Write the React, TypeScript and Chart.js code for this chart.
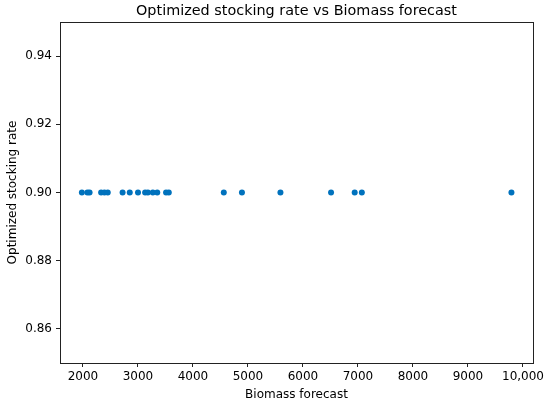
import React, { useEffect, useRef } from "react";
import { Chart, registerables } from "chart.js";

Chart.register(...registerables);

const chartTitle = "Optimized stocking rate vs Biomass forecast";
const biomassForecast = [
  1980, 2080, 2120, 2330, 2390, 2450, 2720, 2850, 3000, 3130, 3180, 3270,
  3350, 3510, 3560, 4560, 4890, 5590, 6510, 6940, 7070, 9790,
];
const stockingRate = [
  0.9, 0.9, 0.9, 0.9, 0.9, 0.9, 0.9, 0.9, 0.9, 0.9, 0.9, 0.9, 0.9, 0.9, 0.9,
  0.9, 0.9, 0.9, 0.9, 0.9, 0.9, 0.9,
];
const xTickValues = [2000, 3000, 4000, 5000, 6000, 7000, 8000, 9000, 10000];
const xTickLabels = ["2000", "3000", "4000", "5000", "6000", "7000", "8000", "9000", "10,000"];
const yTickValues = [0.86, 0.88, 0.9, 0.92, 0.94];
const yTickLabels = ["0.86", "0.88", "0.90", "0.92", "0.94"];

const FONT = "'DejaVu Sans', sans-serif";
const INK = "#222222";

const framePlugin = {
  id: "frameAndTitle",
  afterDraw(chart: any) {
    const { ctx, chartArea } = chart;
    ctx.save();
    ctx.strokeStyle = INK;
    ctx.lineWidth = 1;
    ctx.strokeRect(
      Math.round(chartArea.left) + 0.5,
      Math.round(chartArea.top) + 0.5,
      Math.round(chartArea.right - chartArea.left),
      Math.round(chartArea.bottom - chartArea.top)
    );
    ctx.fillStyle = "#000";
    ctx.font = `14.4px ${FONT}`;
    ctx.textAlign = "center";
    ctx.textBaseline = "alphabetic";
    ctx.fillText(chartTitle, (chartArea.left + chartArea.right) / 2, chartArea.top - 7);
    ctx.restore();
  },
};

export default function App() {
  const ref = useRef<HTMLCanvasElement | null>(null);

  useEffect(() => {
    document.body.style.margin = "0";
    const canvas = ref.current;
    if (!canvas) return;
    const data = biomassForecast.map((x, i) => ({ x, y: stockingRate[i] }));
    const chart = new Chart(canvas, {
      type: "scatter",
      data: {
        datasets: [
          {
            data,
            backgroundColor: "#0072BD",
            borderWidth: 0,
            pointRadius: 3,
          },
        ],
      },
      plugins: [framePlugin],
      options: {
        animation: false,
        responsive: false,
        maintainAspectRatio: false,
        layout: { padding: { top: 22, right: 17, bottom: 0, left: 0 } },
        plugins: {
          legend: { display: false },
          tooltip: { enabled: false },
          title: { display: false },
        },
        scales: {
          x: {
            type: "linear",
            min: 1582,
            max: 10182,
            afterFit: (s: any) => {
              s.height = 40;
            },
            afterBuildTicks: (s: any) => {
              s.ticks = xTickValues.map((v) => ({ value: v }));
            },
            ticks: {
              color: "#000",
              font: { family: FONT, size: 12 },
              padding: 3,
              maxRotation: 0,
              autoSkip: false,
              callback: (v: any) => {
                const i = xTickValues.indexOf(Number(v));
                return i >= 0 ? xTickLabels[i] : "";
              },
            },
            grid: {
              display: true,
              drawOnChartArea: false,
              drawTicks: true,
              tickLength: 4,
              color: INK,
            },
            border: { display: true, color: INK },
            title: {
              display: true,
              text: "Biomass forecast",
              color: "#000",
              font: { family: FONT, size: 12, lineHeight: 1.2 },
              padding: { top: 0, bottom: 1 },
            },
          },
          y: {
            type: "linear",
            min: 0.85,
            max: 0.95,
            afterFit: (s: any) => {
              s.width = 60;
            },
            afterBuildTicks: (s: any) => {
              s.ticks = yTickValues.map((v) => ({ value: v }));
            },
            ticks: {
              color: "#000",
              font: { family: FONT, size: 12 },
              padding: 4,
              autoSkip: false,
              callback: (v: any) => {
                const i = yTickValues.findIndex((t) => Math.abs(t - Number(v)) < 1e-9);
                return i >= 0 ? yTickLabels[i] : "";
              },
            },
            grid: {
              display: true,
              drawOnChartArea: false,
              drawTicks: true,
              tickLength: 4,
              color: INK,
            },
            border: { display: true, color: INK },
            title: {
              display: true,
              text: "Optimized stocking rate",
              color: "#000",
              font: { family: FONT, size: 12, lineHeight: 1.2 },
              padding: { top: 6, bottom: 0 },
            },
          },
        },
      },
    } as any);
    return () => chart.destroy();
  }, []);

  return (
    <div style={{ position: "absolute", left: 0, top: 0, width: 550, height: 403, background: "#fff" }}>
      <canvas ref={ref} width={550} height={403} style={{ width: 550, height: 403 }} />
    </div>
  );
}
